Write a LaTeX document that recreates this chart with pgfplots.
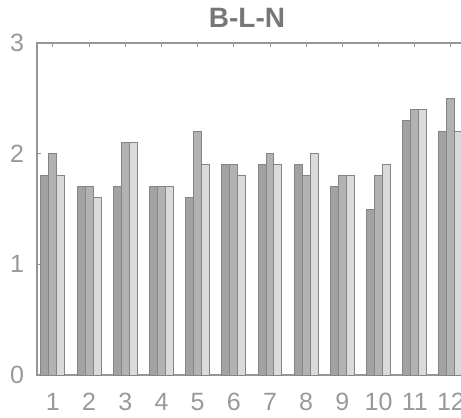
\documentclass[border=0pt]{standalone}
\usepackage{fontspec}
\setmainfont{Liberation Sans}
\usepackage{pgfplots}
\pgfplotsset{compat=1.18}
\usetikzlibrary{calc}
\definecolor{axgray}{HTML}{959595}
\definecolor{txtgray}{HTML}{999999}
\definecolor{ttlgray}{HTML}{777777}
\definecolor{edge}{HTML}{858585}
\definecolor{fillA}{HTML}{A2A2A2}
\definecolor{fillB}{HTML}{B2B2B2}
\definecolor{fillC}{HTML}{DADADA}
\begin{document}
\begin{tikzpicture}
\begin{axis}[
  scale only axis,
  width=216pt, height=166pt,
  xmin=0.56, xmax=12.5,
  ymin=0, ymax=3,
  ybar=0pt, bar width=0.22,
  xtick={1,...,12},
  ytick={0,1,2,3},
  /pgf/number format/assume math mode=true,
  tick align=inside,
  major tick length=2pt,
  axis line style={axgray, line width=0.6pt},
  tick style={axgray, line width=0.5pt},
  ticklabel style={font=\fontsize{12.5}{14}\selectfont, text=txtgray},
  xticklabel style={yshift=-5.5pt},
  yticklabel style={xshift=-3pt},
  title={\textbf{B-L-N}},
  title style={font=\fontsize{14}{16}\selectfont, text=ttlgray, yshift=-2pt, xshift=-3pt},
  every axis plot/.append style={draw=edge, line width=0.5pt},
]
\addplot[fill=fillA] coordinates {(1,1.8)(2,1.7)(3,1.7)(4,1.7)(5,1.6)(6,1.9)(7,1.9)(8,1.9)(9,1.7)(10,1.5)(11,2.3)(12,2.2)};
\addplot[fill=fillB] coordinates {(1,2.0)(2,1.7)(3,2.1)(4,1.7)(5,2.2)(6,1.9)(7,2.0)(8,1.8)(9,1.8)(10,1.8)(11,2.4)(12,2.5)};
\addplot[fill=fillC] coordinates {(1,1.8)(2,1.6)(3,2.1)(4,1.7)(5,1.9)(6,1.8)(7,1.9)(8,2.0)(9,1.8)(10,1.9)(11,2.4)(12,2.2)};
\end{axis}
\pgfresetboundingbox
\path[use as bounding box] ($(current axis.south west)+(-18.5pt,-21.5pt)$) rectangle ($(current axis.south west)+(212pt,187.5pt)$);
\end{tikzpicture}
\end{document}
